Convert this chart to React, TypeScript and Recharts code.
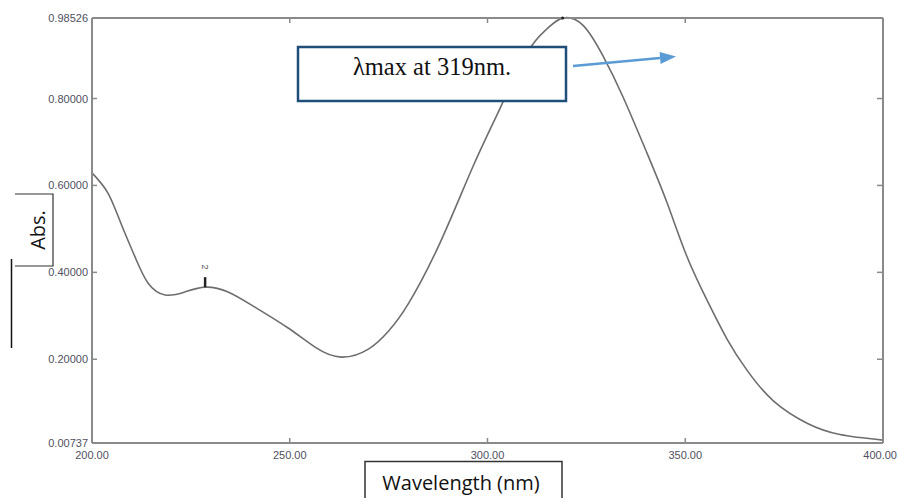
import React from "react";
import { LineChart, Line, XAxis, YAxis, ReferenceDot } from "recharts";

// UV spectrum (nm vs Abs.)
const wavelengths = [
  200, 204, 207.3, 210.9, 214.2, 218.5, 223.5, 228.6, 234.4, 241.2, 249.6, 256.4,
  263, 270, 275, 280, 288, 296.3, 303.2, 310, 315, 319, 324.1, 329.2, 334.3,
  340.3, 345.4, 350.4, 355.5, 360.6, 365.6, 372.2, 380.8, 389.1, 400,
];
const absorbance = [
  0.629, 0.583, 0.513, 0.435, 0.375, 0.348, 0.355, 0.366, 0.355, 0.32, 0.272, 0.228,
  0.205, 0.224, 0.265, 0.328, 0.468, 0.643, 0.778, 0.905, 0.96, 0.985, 0.969, 0.898,
  0.803, 0.675, 0.56, 0.437, 0.336, 0.246, 0.175, 0.105, 0.053, 0.027, 0.014,
];

const xTicks = [200, 250, 300, 350, 400];
const yTicks = [0.00737, 0.2, 0.4, 0.6, 0.8, 0.98526];
const innerXTicks = [250, 300, 350];
const innerYTicks = [0.2, 0.4, 0.6, 0.8];

const peak = { wl: 319, abs: 0.98526 };
const shoulder = { wl: 228.6, abs: 0.366, label: "2" };

const chartData = wavelengths.map((wl, i) => ({ wl, abs: absorbance[i] }));

const AXIS = "#8a8a8a";
const LABEL = "#505060";
const SANS = "'Liberation Sans', Arial, sans-serif";

const BottomTick = ({ x, y, payload }: any) => {
  const last = payload.value === xTicks[xTicks.length - 1];
  return (
    <g>
      {innerXTicks.includes(payload.value) && (
        <line x1={x} y1={y} x2={x} y2={y - 5} stroke={AXIS} strokeWidth={1.5} />
      )}
      <text
        x={last ? x + 14 : x}
        y={y + 16}
        textAnchor={last ? "end" : "middle"}
        fontSize={11}
        fill={LABEL}
        fontFamily={SANS}
      >
        {payload.value.toFixed(2)}
      </text>
    </g>
  );
};

const LeftTick = ({ x, y, payload }: any) => (
  <g>
    {innerYTicks.includes(payload.value) && (
      <line x1={x} y1={y} x2={x + 5} y2={y} stroke={AXIS} strokeWidth={1.5} />
    )}
    <text x={x - 4} y={y + 4} textAnchor="end" fontSize={11} fill={LABEL} fontFamily={SANS}>
      {payload.value.toFixed(5)}
    </text>
  </g>
);

// frame ticks point inward; tick x/y come in at the axis line (size & margin 0)
const TopTick = ({ x, y }: any) => (
  <line x1={x} y1={y} x2={x} y2={y + 5} stroke={AXIS} strokeWidth={1.5} />
);

const RightTick = ({ x, y }: any) => (
  <line x1={x} y1={y} x2={x - 6} y2={y} stroke={AXIS} strokeWidth={1.5} />
);

const ShoulderMark = ({ cx, cy }: any) => (
  <g>
    <line x1={cx} y1={cy} x2={cx} y2={cy - 10} stroke="#222" strokeWidth={2.5} />
    <text
      x={cx}
      y={cy - 17}
      transform={`rotate(90 ${cx} ${cy - 20})`}
      textAnchor="middle"
      fontSize={9}
      fill="#555"
      fontFamily={SANS}
    >
      {shoulder.label}
    </text>
  </g>
);

const App = () => {
  return (
    <div style={{ position: "absolute", left: 0, top: 0, width: 898, height: 498, background: "#fff" }}>
      <LineChart
        width={898}
        height={498}
        data={chartData}
        margin={{ top: 17, right: 14, bottom: 25, left: 0 }}
      >
        <XAxis
          dataKey="wl"
          type="number"
          domain={[200, 400]}
          ticks={xTicks}
          interval={0}
          height={30}
          tickSize={0}
          tickMargin={0}
          tickLine={false}
          axisLine={{ stroke: AXIS, strokeWidth: 2 }}
          tick={<BottomTick />}
        />
        <XAxis
          xAxisId="top"
          dataKey="wl"
          orientation="top"
          type="number"
          domain={[200, 400]}
          ticks={innerXTicks}
          interval={0}
          height={1}
          tickSize={0}
          tickMargin={0}
          tickLine={false}
          axisLine={{ stroke: AXIS, strokeWidth: 2 }}
          tick={<TopTick />}
        />
        <YAxis
          type="number"
          domain={[0.00737, 0.98526]}
          ticks={yTicks}
          interval={0}
          width={92}
          tickSize={0}
          tickMargin={0}
          tickLine={false}
          axisLine={{ stroke: AXIS, strokeWidth: 2 }}
          tick={<LeftTick />}
        />
        <YAxis
          yAxisId="right"
          orientation="right"
          type="number"
          domain={[0.00737, 0.98526]}
          ticks={innerYTicks}
          interval={0}
          width={1}
          tickSize={0}
          tickMargin={0}
          tickLine={false}
          axisLine={{ stroke: AXIS, strokeWidth: 2 }}
          tick={<RightTick />}
        />
        {/* invisible twin so the frame axes have a series */}
        <Line
          xAxisId="top"
          yAxisId="right"
          type="natural"
          dataKey="abs"
          stroke="none"
          dot={false}
          activeDot={false}
          isAnimationActive={false}
        />
        <Line
          type="natural"
          dataKey="abs"
          stroke="#6e6e6e"
          strokeWidth={1.6}
          dot={false}
          isAnimationActive={false}
        />
        <ReferenceDot x={peak.wl} y={peak.abs} r={1.6} fill="#222" stroke="none" />
        <ReferenceDot x={shoulder.wl} y={shoulder.abs} shape={<ShoulderMark />} />
      </LineChart>

      {/* annotations pasted over the instrument plot */}
      <svg
        width={898}
        height={498}
        style={{ position: "absolute", left: 0, top: 0, pointerEvents: "none" }}
      >
        <rect x={298} y={47} width={268} height={54} fill="#fff" stroke="#1f4e79" strokeWidth={2.5} />
        <text
          x={432}
          y={75}
          textAnchor="middle"
          fontSize={24.5}
          fill="#111"
          fontFamily="'Liberation Serif', 'Times New Roman', serif"
        >
          λmax at 319nm.
        </text>
        <line x1={573} y1={66} x2={660} y2={58} stroke="#5b9bd5" strokeWidth={2.5} />
        <polygon points="676,56.5 660.6,63.9 659.6,51.9" fill="#5b9bd5" />

        <path d="M15,194 H53 V266 H15" fill="none" stroke="#333" strokeWidth={1.2} />
        <text
          x={45}
          y={230}
          transform="rotate(-90 45 230)"
          textAnchor="middle"
          fontSize={20}
          fill="#111"
          fontFamily="'Open Sans', sans-serif"
        >
          Abs.
        </text>
        <line x1={11.5} y1={259} x2={11.5} y2={348} stroke="#111" strokeWidth={1.5} />

        <rect x={365} y={461.5} width={197} height={50} fill="#fff" stroke="#333" strokeWidth={1.5} />
        <text x={461} y={490} textAnchor="middle" fontSize={20} fill="#111" fontFamily="'Open Sans', sans-serif">
          Wavelength (nm)
        </text>
      </svg>
    </div>
  );
};

export default App;
